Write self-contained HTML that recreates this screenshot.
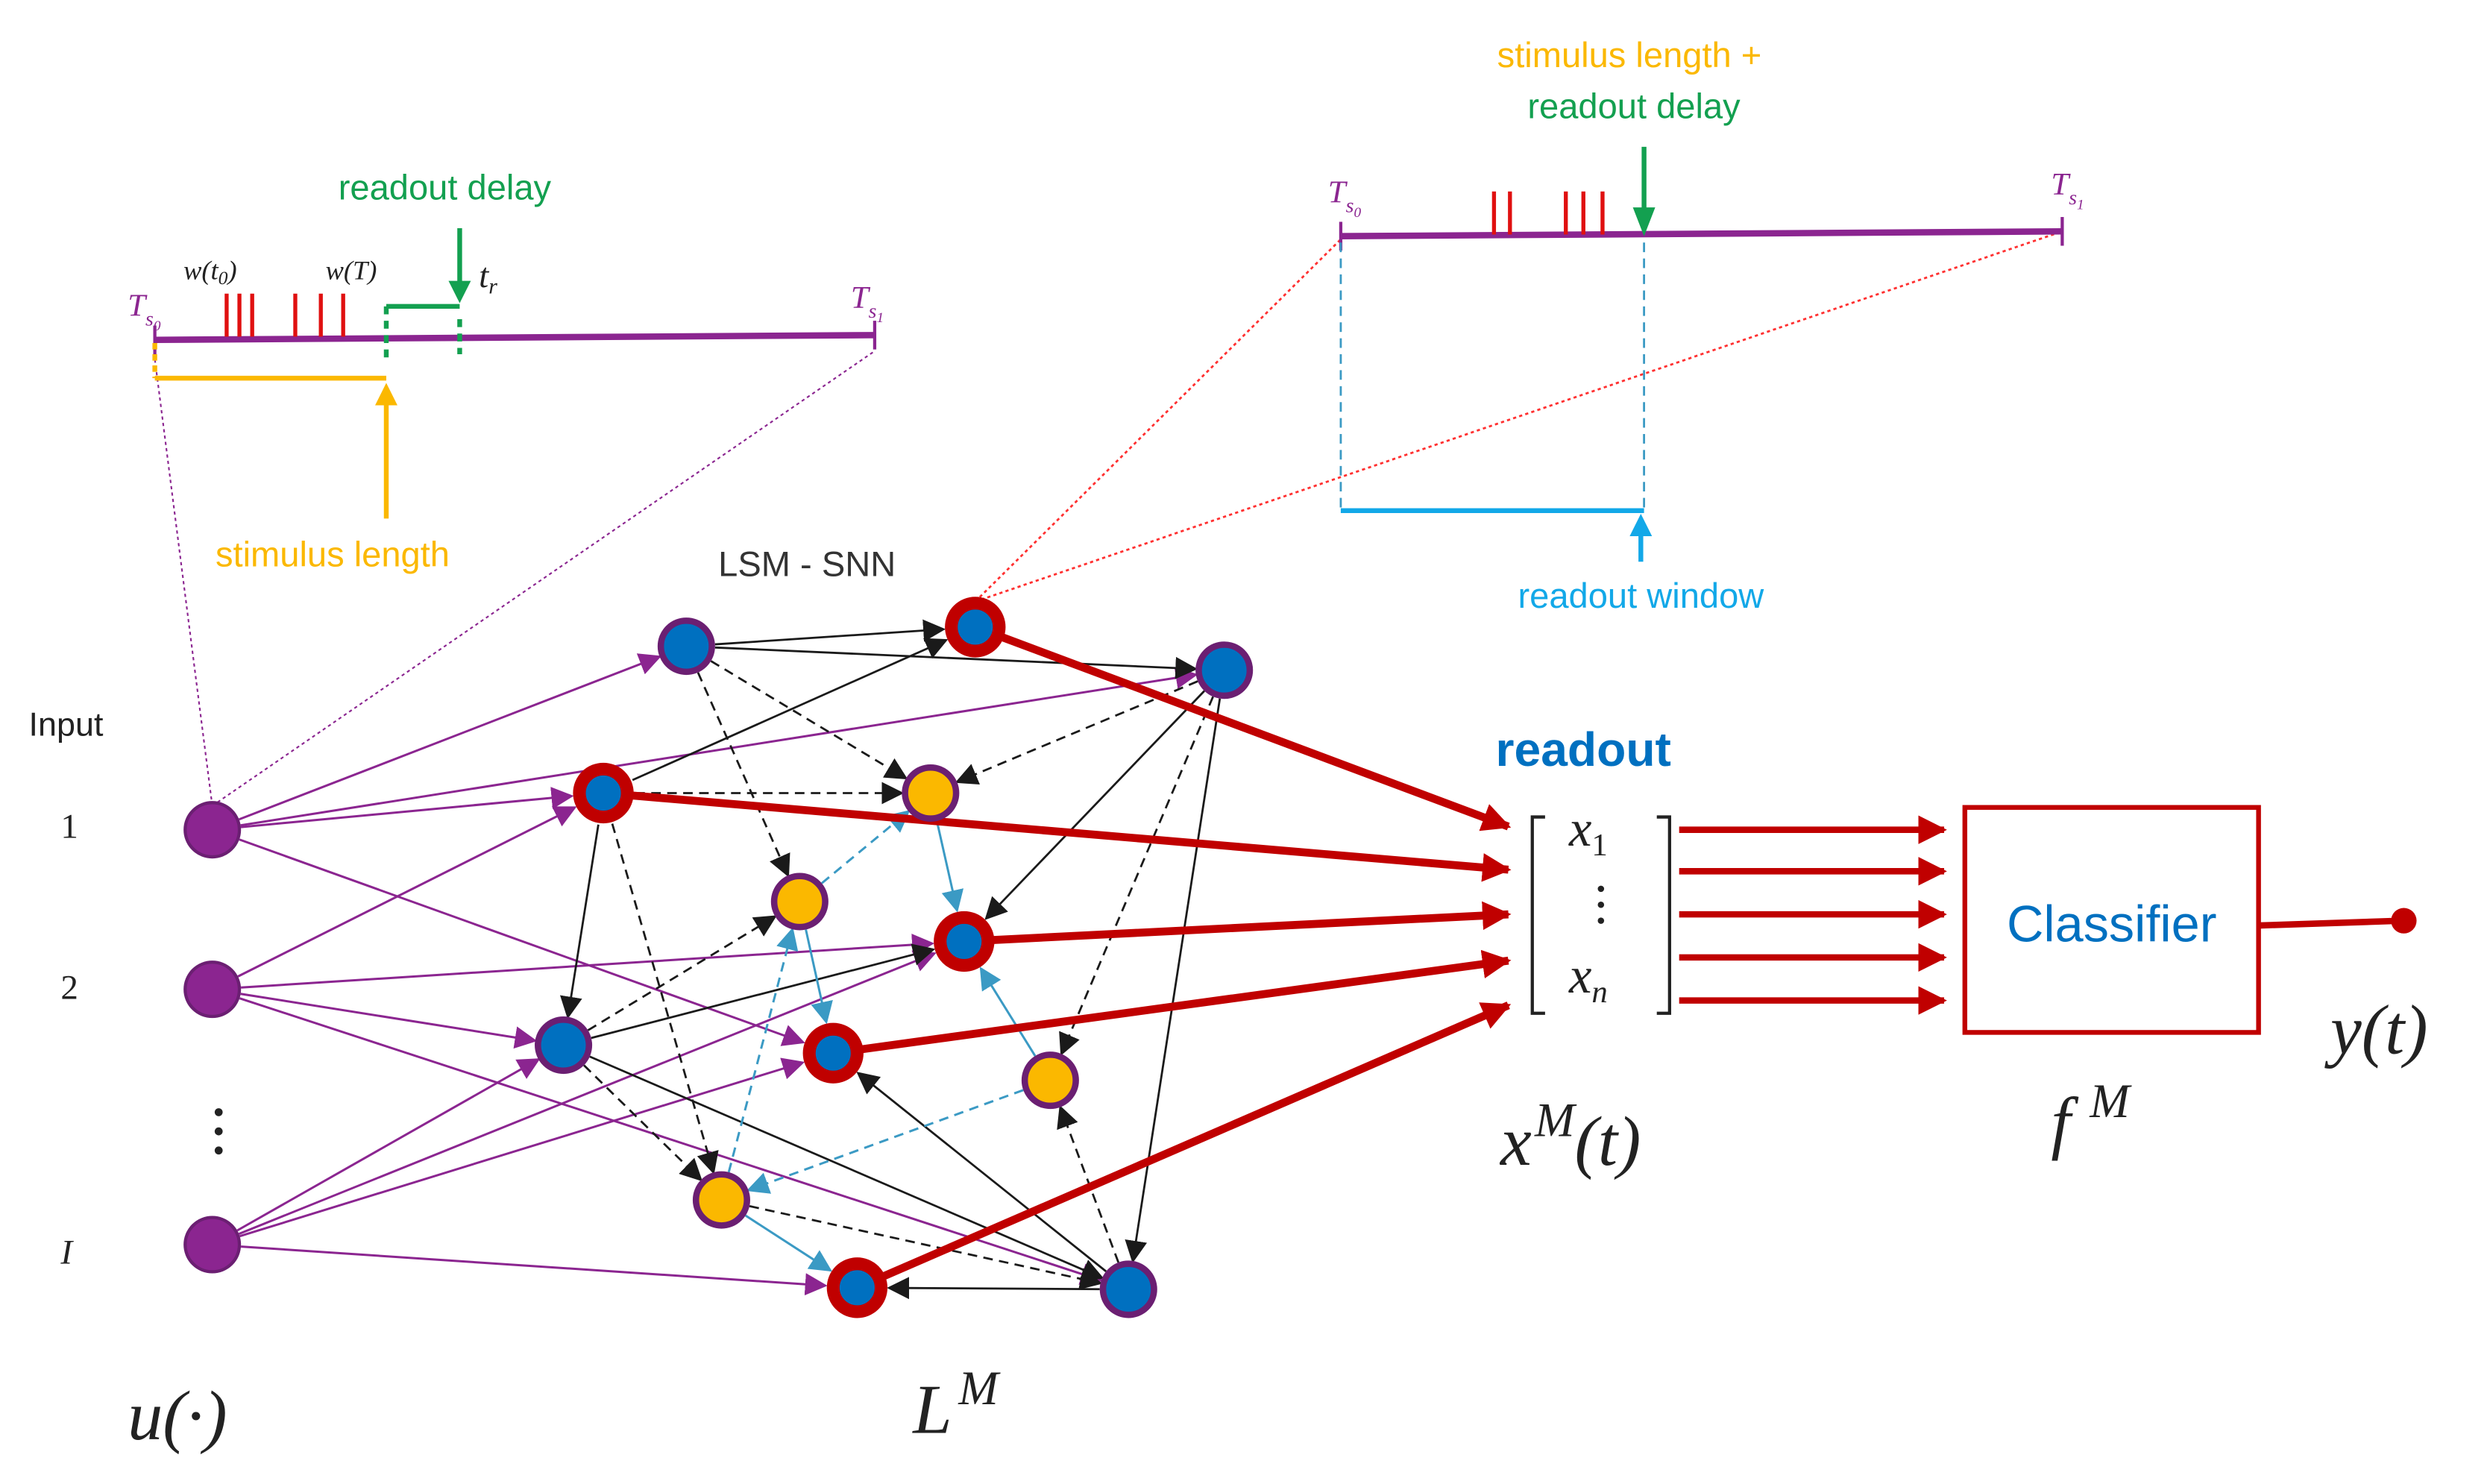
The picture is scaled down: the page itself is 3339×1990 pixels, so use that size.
<!DOCTYPE html>
<html><head><meta charset="utf-8"><style>
html,body{margin:0;padding:0;background:#fff}
svg{display:block}
.s{font-family:"Liberation Sans",sans-serif}
.m{font-family:"Liberation Serif",serif;font-style:italic}
</style></head><body>
<svg id="svg" width="3339" height="1990" viewBox="0 0 1560 930" preserveAspectRatio="none" xmlns="http://www.w3.org/2000/svg">
<defs>
<marker id="ak" viewBox="0 0 10 10" refX="9" refY="5" markerWidth="14" markerHeight="14" orient="auto" markerUnits="userSpaceOnUse"><path d="M0,0 L10,5 L0,10z" fill="#1a1a1a"/></marker>
<marker id="ab" viewBox="0 0 10 10" refX="9" refY="5" markerWidth="14" markerHeight="14" orient="auto" markerUnits="userSpaceOnUse"><path d="M0,0 L10,5 L0,10z" fill="#3b9ac4"/></marker>
<marker id="ar" viewBox="0 0 10 10" refX="9" refY="5" markerWidth="18" markerHeight="18" orient="auto" markerUnits="userSpaceOnUse"><path d="M0,0 L10,5 L0,10z" fill="#c00000"/></marker>
<marker id="apm" viewBox="0 0 10 10" refX="9" refY="5" markerWidth="14" markerHeight="14" orient="auto" markerUnits="userSpaceOnUse"><path d="M0,0 L10,5 L0,10z" fill="#8b2590"/></marker>
</defs>

<line x1="133" y1="505" x2="97" y2="225" stroke="#8b2590" stroke-width="1" stroke-dasharray="2,2"/>
<line x1="133" y1="505" x2="548" y2="220" stroke="#8b2590" stroke-width="1" stroke-dasharray="2,2"/>
<line x1="97" y1="213" x2="548" y2="210" stroke="#8b2590" stroke-width="4"/>
<line x1="97" y1="204" x2="97" y2="222" stroke="#8b2590" stroke-width="2"/>
<line x1="548" y1="201" x2="548" y2="219" stroke="#8b2590" stroke-width="2"/>
<g stroke="#e01010" stroke-width="2.5"><line x1="142" y1="184" x2="142" y2="211"/><line x1="150" y1="184" x2="150" y2="211"/><line x1="158" y1="184" x2="158" y2="211"/><line x1="185" y1="184" x2="185" y2="211"/><line x1="201" y1="184" x2="201" y2="211"/><line x1="215" y1="184" x2="215" y2="211"/></g>
<line x1="242" y1="192" x2="242" y2="228" stroke="#13a050" stroke-width="3" stroke-dasharray="5,4"/>
<line x1="242" y1="192" x2="288" y2="192" stroke="#13a050" stroke-width="3"/>
<line x1="288" y1="200" x2="288" y2="222" stroke="#13a050" stroke-width="3" stroke-dasharray="5,4"/>
<line x1="288" y1="143" x2="288" y2="186" stroke="#13a050" stroke-width="3"/>
<path d="M281,176 L295,176 L288,190z" fill="#13a050"/>
<line x1="97" y1="215" x2="97" y2="237" stroke="#fbb800" stroke-width="3" stroke-dasharray="4,3"/>
<line x1="97" y1="237" x2="242" y2="237" stroke="#fbb800" stroke-width="3"/>
<line x1="242" y1="250" x2="242" y2="325" stroke="#fbb800" stroke-width="3"/>
<path d="M235,254 L249,254 L242,240z" fill="#fbb800"/>
<text x="212" y="125" class="s" font-size="22" fill="#13a050">readout delay</text>
<text x="135" y="355" class="s" font-size="22" fill="#fbb800">stimulus length</text>
<text x="115" y="175" class="m" font-size="17" fill="#222">w(t<tspan font-size="12" dy="3">0</tspan><tspan dy="-3">)</tspan></text>
<text x="204" y="175" class="m" font-size="17" fill="#222">w(T)</text>
<text x="300" y="180" class="m" font-size="22" fill="#222">t<tspan font-size="14" dy="4">r</tspan></text>
<text x="80" y="198" class="m" font-size="20" fill="#8b2590">T<tspan font-size="13" dy="6">s</tspan><tspan font-size="9" dy="3">0</tspan></text>
<text x="533" y="193" class="m" font-size="20" fill="#8b2590">T<tspan font-size="13" dy="6">s</tspan><tspan font-size="9" dy="3">1</tspan></text>

<line x1="611" y1="377" x2="840" y2="150" stroke="#ff3030" stroke-width="1.3" stroke-dasharray="2,2"/>
<line x1="611" y1="377" x2="1292" y2="145" stroke="#ff3030" stroke-width="1.3" stroke-dasharray="2,2"/>
<line x1="840" y1="148" x2="1292" y2="145" stroke="#8b2590" stroke-width="4"/>
<line x1="840" y1="139" x2="840" y2="157" stroke="#8b2590" stroke-width="2"/>
<line x1="1292" y1="136" x2="1292" y2="154" stroke="#8b2590" stroke-width="2"/>
<g stroke="#e01010" stroke-width="2.5"><line x1="936" y1="120" x2="936" y2="147"/><line x1="946" y1="120" x2="946" y2="147"/><line x1="981" y1="120" x2="981" y2="147"/><line x1="992" y1="120" x2="992" y2="147"/><line x1="1004" y1="120" x2="1004" y2="147"/></g>
<line x1="1030" y1="92" x2="1030" y2="135" stroke="#13a050" stroke-width="3"/>
<path d="M1023,130 L1037,130 L1030,148z" fill="#13a050"/>
<line x1="840" y1="152" x2="840" y2="320" stroke="#3b9ac4" stroke-width="1.3" stroke-dasharray="6,4"/>
<line x1="1030" y1="152" x2="1030" y2="320" stroke="#3b9ac4" stroke-width="1.3" stroke-dasharray="6,4"/>
<line x1="840" y1="320" x2="1030" y2="320" stroke="#12a8e8" stroke-width="3"/>
<line x1="1028" y1="332" x2="1028" y2="352" stroke="#12a8e8" stroke-width="3"/>
<path d="M1021,336 L1035,336 L1028,322z" fill="#12a8e8"/>
<text x="938" y="42" class="s" font-size="22" fill="#fbb800">stimulus length +</text>
<text x="957" y="74" class="s" font-size="22" fill="#13a050">readout delay</text>
<text x="951" y="381" class="s" font-size="22" fill="#12a8e8">readout window</text>
<text x="832" y="127" class="m" font-size="20" fill="#8b2590">T<tspan font-size="13" dy="6">s</tspan><tspan font-size="9" dy="3">0</tspan></text>
<text x="1285" y="122" class="m" font-size="20" fill="#8b2590">T<tspan font-size="13" dy="6">s</tspan><tspan font-size="9" dy="3">1</tspan></text>

<text x="450" y="361" class="s" font-size="22" fill="#333">LSM - SNN</text>
<text x="18" y="461" class="s" font-size="21" fill="#222">Input</text>
<text x="38" y="525" font-family="Liberation Serif,serif" font-size="22" fill="#222">1</text>
<text x="38" y="626" font-family="Liberation Serif,serif" font-size="22" fill="#222">2</text>
<text x="38" y="792" class="m" font-size="22" fill="#222">I</text>
<g fill="#222"><circle cx="137" cy="697" r="2.5"/><circle cx="137" cy="709" r="2.5"/><circle cx="137" cy="721" r="2.5"/></g>

<g id="edges"></g>
<g id="nodes"></g>

<text x="937" y="480" class="s" font-size="30" font-weight="bold" fill="#0070c0">readout</text>
<path d="M968,512 L960,512 L960,635 L968,635" fill="none" stroke="#222" stroke-width="2"/>
<path d="M1038,512 L1046,512 L1046,635 L1038,635" fill="none" stroke="#222" stroke-width="2"/>
<text x="983" y="530" class="m" font-size="32" fill="#222">x<tspan font-size="20" dy="6" font-style="normal">1</tspan></text>
<g fill="#222"><circle cx="1003" cy="557" r="2"/><circle cx="1003" cy="567" r="2"/><circle cx="1003" cy="577" r="2"/></g>
<text x="983" y="622" class="m" font-size="32" fill="#222">x<tspan font-size="20" dy="6">n</tspan></text>
<g stroke="#c00000" stroke-width="4" marker-end="url(#ar)">
<line x1="1052" y1="520" x2="1218" y2="520"/><line x1="1052" y1="546" x2="1218" y2="546"/><line x1="1052" y1="573" x2="1218" y2="573"/><line x1="1052" y1="600" x2="1218" y2="600"/><line x1="1052" y1="627" x2="1218" y2="627"/>
</g>
<rect x="1231" y="506" width="184" height="141" fill="#fff" stroke="#c00000" stroke-width="3"/>
<text x="1323" y="590" class="s" font-size="32" fill="#0070c0" text-anchor="middle">Classifier</text>
<line x1="1415" y1="580" x2="1505" y2="577" stroke="#c00000" stroke-width="4"/>
<circle cx="1506" cy="577" r="8" fill="#c00000"/>

<text x="80" y="902" class="m" font-size="44" fill="#222">u(·)</text>
<text x="572" y="898" class="m" font-size="44" fill="#222">L<tspan font-size="30" dy="-18" dx="4">M</tspan></text>
<text x="940" y="730" class="m" font-size="44" fill="#222">x<tspan font-size="30" dy="-18" dx="2">M</tspan><tspan dy="18">(t)</tspan></text>
<text x="1285" y="718" class="m" font-size="44" fill="#222">f<tspan font-size="30" dy="-18" dx="12">M</tspan></text>
<text x="1460" y="660" class="m" font-size="44" fill="#222">y(t)</text>
</svg>
<script>
var N={I1:[133,520,'in'],I2:[133,620,'in'],I3:[133,780,'in'],
A:[430,405,'b'],B:[767,420,'b'],C:[353,655,'b'],D:[707,808,'b'],
R1:[611,393,'r'],R2:[378,497,'r'],R3:[604,590,'r'],R4:[522,660,'r'],R5:[537,807,'r'],
Y1:[583,497,'y'],Y2:[501,565,'y'],Y3:[658,677,'y'],Y4:[452,752,'y']};
function rad(k){var t=N[k][2];return t=='in'?18:t=='r'?20:18;}
var E=[
['p','I1','A'],['p','I1','B'],['p','I1','R4'],['p','I1','R2'],
['p','I2','R2'],['p','I2','R3'],['p','I2','C'],['p','I2','D'],
['p','I3','C'],['p','I3','R3'],['p','I3','R4'],['p','I3','R5'],
['k','A','R1'],['k','A','B'],['k','R2','R1'],['k','R2','C'],['k','B','R3'],['k','C','R3'],['k','C','D'],['k','D','R4'],['k','D','R5'],['k','B','D'],
['kd','A','Y1'],['kd','A','Y2'],['kd','R2','Y1'],['kd','B','Y1'],['kd','R2','Y4'],['kd','C','Y2'],['kd','B','Y3'],['kd','Y4','D'],['kd','C','Y4'],['kd','D','Y3'],
['bd','Y2','Y1'],['b','Y1','R3'],['b','Y2','R4'],['b','Y3','R3'],['bd','Y4','Y2'],['bd','Y3','Y4'],['b','Y4','R5']];
var ns='http://www.w3.org/2000/svg',eg=document.getElementById('edges'),ng=document.getElementById('nodes');
function ln(x1,y1,x2,y2,st,w,da,mk){var l=document.createElementNS(ns,'line');l.setAttribute('x1',x1);l.setAttribute('y1',y1);l.setAttribute('x2',x2);l.setAttribute('y2',y2);l.setAttribute('stroke',st);l.setAttribute('stroke-width',w);if(da)l.setAttribute('stroke-dasharray',da);if(mk)l.setAttribute('marker-end','url(#'+mk+')');eg.appendChild(l);}
E.forEach(function(e){var a=N[e[1]],b=N[e[2]],dx=b[0]-a[0],dy=b[1]-a[1],L=Math.sqrt(dx*dx+dy*dy),ux=dx/L,uy=dy/L,r1=rad(e[1]),r2=rad(e[2]);
var x1=a[0]+ux*r1,y1=a[1]+uy*r1,x2=b[0]-ux*r2,y2=b[1]-uy*r2;
if(e[0]=='p')ln(x1,y1,x2,y2,'#8b2590',1.4,null,'apm');
else if(e[0]=='k')ln(x1,y1,x2,y2,'#1a1a1a',1.3,null,'ak');
else if(e[0]=='kd')ln(x1,y1,x2,y2,'#1a1a1a',1.3,'6,4','ak');
else if(e[0]=='b')ln(x1,y1,x2,y2,'#3b9ac4',1.4,null,'ab');
else ln(x1,y1,x2,y2,'#3b9ac4',1.4,'6,4','ab');});
var T=[[611,393,945,518],[378,497,945,545],[604,590,945,573],[522,660,945,602],[537,807,945,630]];
T.forEach(function(t){ln(t[0],t[1],t[2],t[3],'#c00000',5,null,'ar');});
function c(x,y,r,f,s,w){var e=document.createElementNS(ns,'circle');e.setAttribute('cx',x);e.setAttribute('cy',y);e.setAttribute('r',r);e.setAttribute('fill',f);e.setAttribute('stroke',s);e.setAttribute('stroke-width',w);ng.appendChild(e);}
for(var k in N){var n=N[k];
if(n[2]=='in')c(n[0],n[1],17,'#8b2590','#6b1f72',2);
else if(n[2]=='b')c(n[0],n[1],16,'#0070c0','#6b1f72',4);
else if(n[2]=='r')c(n[0],n[1],15,'#0070c0','#c00000',8);
else c(n[0],n[1],16,'#fbb800','#6b1f72',4);}
</script>
</body></html>
